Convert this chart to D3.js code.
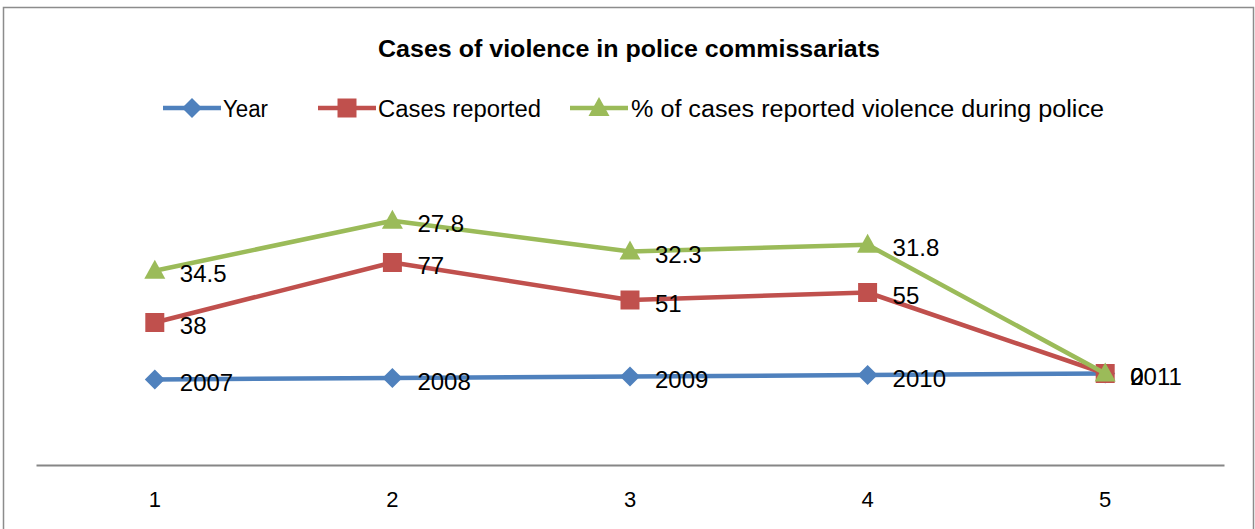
<!DOCTYPE html>
<html>
<head>
<meta charset="utf-8">
<script src="https://cdn.jsdelivr.net/npm/d3@7"></script>
<style>
  html, body { margin: 0; padding: 0; background: #fff; }
  svg { display: block; }
  text { font-family: "Liberation Sans", Arial, sans-serif; fill: #000; }
</style>
</head>
<body>
<svg id="chart" width="1255" height="529"></svg>
<script>
// Category labels along the x axis
const categories = [1, 2, 3, 4, 5];
// Series values (plotted as a stacked line chart)
const yearValues = [2007, 2008, 2009, 2010, 2011];
const casesValues = [38, 77, 51, 55, 0];
const pctValues = [34.5, 27.8, 32.3, 31.8, 0];
const seriesNames = ["Year", "Cases reported", "% of cases reported violence during police"];
const seriesColors = ["#4F81BD", "#C0504D", "#9BBB59"];
// Value-axis range
const yMin = 1950, yMax = 2150;

const svg = d3.select("#chart");
const W = 1255, H = 529;

// Marker shapes: diamond, square, triangle (centred on 0,0)
function markerPath(k) {
  if (k === 0) return "M0,-10L10,0L0,10L-10,0Z";
  if (k === 1) return "M-9.5,-9.5H9.5V9.5H-9.5Z";
  return "M0,-11L10.5,8L-10.5,8Z";
}

// Chart frame
svg.append("rect")
  .attr("x", 3.5).attr("y", 7.5)
  .attr("width", W - 5).attr("height", H + 10)
  .attr("fill", "#fff").attr("stroke", "#8c8c8c").attr("stroke-width", 1.5);

// Title
svg.append("text")
  .attr("x", 629).attr("y", 57)
  .attr("text-anchor", "middle")
  .attr("font-size", 24).attr("font-weight", "bold")
  .attr("textLength", 502).attr("lengthAdjust", "spacingAndGlyphs")
  .text("Cases of violence in police commissariats");

// Stack the three series
const rows = categories.map((c, i) => ({ cat: c, s0: yearValues[i], s1: casesValues[i], s2: pctValues[i] }));
const stacked = d3.stack().keys(["s0", "s1", "s2"])(rows);

const x = d3.scaleBand().domain(categories).range([36, 1224]);
const y = d3.scaleLinear().domain([yMin, yMax]).range([465, 165]);
const cx = d => x(d.data.cat) + x.bandwidth() / 2;

// Category axis
const xAxis = svg.append("g")
  .attr("transform", "translate(0,465)")
  .call(d3.axisBottom(x).tickSize(0).tickPadding(26));
xAxis.attr("font-size", null).attr("font-family", null);
xAxis.select(".domain").attr("stroke", "#868686").attr("stroke-width", 2);
xAxis.selectAll("text").style("font-size", "22px").style("fill", "#000");

const line = d3.line().x(cx).y(d => y(d[1]));
const origValues = [yearValues, casesValues, pctValues];

// Lines and markers, series by series
stacked.forEach((layer, k) => {
  svg.append("path")
    .datum(layer)
    .attr("fill", "none")
    .attr("stroke", seriesColors[k])
    .attr("stroke-width", 4.5)
    .attr("stroke-linejoin", "round")
    .attr("d", line);
  svg.selectAll(null)
    .data(layer)
    .enter().append("path")
    .attr("transform", d => `translate(${cx(d)},${y(d[1])})`)
    .attr("d", markerPath(k))
    .attr("fill", seriesColors[k]);
});

// Data labels
stacked.forEach((layer, k) => {
  svg.selectAll(null)
    .data(layer)
    .enter().append("text")
    .attr("x", d => cx(d) + 25)
    .attr("y", d => y(d[1]) + 3)
    .attr("dominant-baseline", "central")
    .attr("font-size", 24)
    .text((d, i) => origValues[k][i]);
});

// Legend
const legendItems = [
  { x0: 163, tx: 223, w: 45 },
  { x0: 318, tx: 378, w: 163 },
  { x0: 570, tx: 631, w: 473 }
];
legendItems.forEach((it, k) => {
  const g = svg.append("g");
  g.append("line")
    .attr("x1", it.x0).attr("x2", it.x0 + 58)
    .attr("y1", 108).attr("y2", 108)
    .attr("stroke", seriesColors[k]).attr("stroke-width", 4.5);
  g.append("path")
    .attr("transform", `translate(${it.x0 + 29},108)`)
    .attr("d", markerPath(k))
    .attr("fill", seriesColors[k]);
  g.append("text")
    .attr("x", it.tx).attr("y", 109)
    .attr("dominant-baseline", "central")
    .attr("font-size", 23)
    .attr("textLength", it.w).attr("lengthAdjust", "spacingAndGlyphs")
    .text(seriesNames[k]);
});
</script>
</body>
</html>
